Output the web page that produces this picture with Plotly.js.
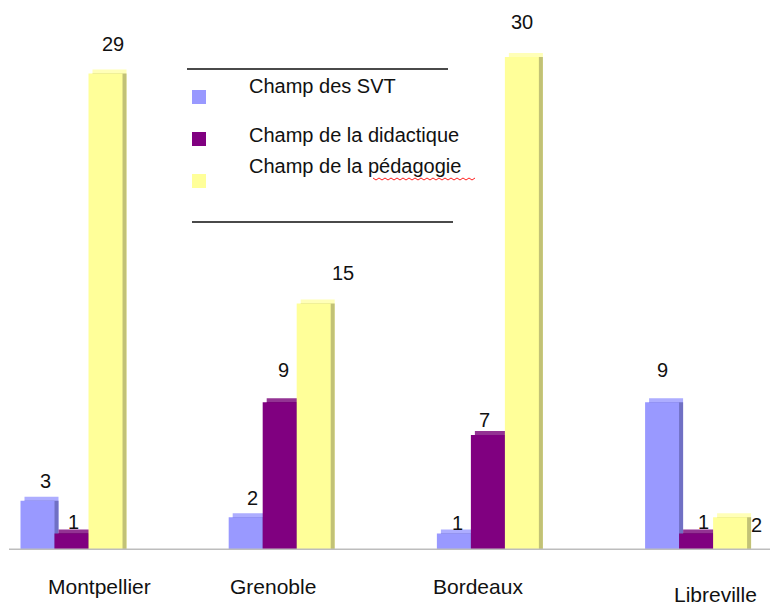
<!DOCTYPE html>
<html>
<head>
<meta charset="utf-8">
<script src="https://cdn.plot.ly/plotly-3.0.1.min.js"></script>
<style>html,body{margin:0;padding:0;background:#fff;}#chart{width:770px;height:607px;}</style>
</head>
<body>
<div id="chart"></div>
<script>
// ---- data ----
var categories = ["Montpellier", "Grenoble", "Bordeaux", "Libreville"];
var seriesNames = ["Champ des SVT", "Champ de la didactique", "Champ de la pédagogie"];
var svtValues = [3, 2, 1, 9];
var didactiqueValues = [1, 9, 7, 1];
var pedagogieValues = [29, 15, 30, 2];

// ---- style ----
var faceColors = ["#9999FF", "#800080", "#FFFF99"];
var sideColors = ["#7070C4", "#560056", "#C2C276"];
var topColors  = ["#ADADFF", "#933393", "#FFFFB8"];
// label nudges (pixels) per series
var labelDx = [[8, 7, 4, 0], [1.5, 4, -3, 7], [7, 29, 0, 26]];
var labelDy = [[20, 19, 11, 32], [12, 32, 15, 12], [30, 31, 35, -8]];
var catLabelDx = [28, -7, -10, 19];
var catLabelDy = [-36, -36, -36, -44];

var W = 770, H = 607;
var baseY = 550;             // pixel of value 0
var xMin = -0.3434, xMax = 3.355;
var pxX = W / (xMax - xMin);
var pxY = 16.43;
var yMax = baseY / pxY;
var w = 34 / pxX;
var dX = 4 / pxX, dY = 4 / pxY;
var font = "Arial, 'Liberation Sans', sans-serif";

var allValues = [svtValues, didactiqueValues, pedagogieValues];
var traces = [];
allValues.forEach(function (vals, s) {
  var off = (s - 1.5) * w;
  traces.push({type: "bar", x: categories, y: vals.map(function (v) { return v + dY; }),
    offset: off + dX, width: w, marker: {color: topColors[s], line: {width: 0}},
    hoverinfo: "skip", showlegend: false});
  traces.push({type: "bar", x: categories, y: vals,
    offset: off + dX, width: w, marker: {color: sideColors[s], line: {width: 0}},
    hoverinfo: "skip", showlegend: false});
  traces.push({type: "bar", x: categories, y: vals, name: seriesNames[s],
    offset: off, width: w, marker: {color: faceColors[s], line: {width: 0}},
    showlegend: false});
});

var annotations = [];
allValues.forEach(function (vals, s) {
  vals.forEach(function (v, i) {
    annotations.push({x: i + (s - 1) * w, y: v, xref: "x", yref: "y", text: String(v),
      showarrow: false, xanchor: "center", yanchor: "middle",
      xshift: labelDx[s][i], yshift: labelDy[s][i],
      font: {family: font, size: 20, color: "#111"}});
  });
});
categories.forEach(function (c, i) {
  annotations.push({x: i, y: 0, xref: "x", yref: "y", text: c, showarrow: false,
    xanchor: "center", yanchor: "middle", xshift: catLabelDx[i], yshift: catLabelDy[i],
    borderpad: 0, font: {family: font, size: 21, color: "#111"}});
});

// legend (manual)
var legTextY = [86, 135, 166];
var legBoxY = [90, 132, 174];
var shapes = [];
seriesNames.forEach(function (n, s) {
  annotations.push({xref: "paper", yref: "paper", x: 247 / W, y: 1 - legTextY[s] / H,
    text: n, showarrow: false, xanchor: "left", yanchor: "middle",
    font: {family: font, size: 20, color: "#111"}});
  shapes.push({type: "rect", xref: "paper", yref: "paper",
    x0: 192 / W, x1: 206 / W, y0: 1 - legBoxY[s] / H, y1: 1 - (legBoxY[s] + 14) / H,
    fillcolor: faceColors[s], line: {width: 0}});
});
shapes.push({type: "line", xref: "paper", yref: "paper", x0: 187 / W, x1: 448 / W,
  y0: 1 - 69 / H, y1: 1 - 69 / H, line: {color: "#4a4a4a", width: 2}});
shapes.push({type: "line", xref: "paper", yref: "paper", x0: 192 / W, x1: 453 / W,
  y0: 1 - 222 / H, y1: 1 - 222 / H, line: {color: "#4a4a4a", width: 2}});
// spell-check squiggle under "pédagogie"
var sq = "M" + (373 / W) + "," + (1 - 178 / H);
for (var k = 1; k <= 34; k++) {
  var px = 373 + k * 3, py = 178 + (k % 2 ? 2 : 0);
  sq += " L" + (px / W) + "," + (1 - py / H);
}
shapes.push({type: "path", xref: "paper", yref: "paper", path: sq,
  line: {color: "#ff2020", width: 1}});
// floor line
shapes.push({type: "line", xref: "paper", yref: "y", x0: 9 / W, x1: 1, y0: 0, y1: 0,
  line: {color: "#bdbdbd", width: 3}, layer: "above"});

var layout = {
  width: W, height: H,
  margin: {l: 0, r: 0, t: 0, b: 0, pad: 0},
  paper_bgcolor: "#fff", plot_bgcolor: "#fff",
  barmode: "overlay",
  showlegend: false,
  xaxis: {type: "category", range: [xMin, xMax], showticklabels: false, showgrid: false,
    zeroline: false, showline: false, ticks: "", fixedrange: true},
  yaxis: {range: [0, yMax], domain: [(H - baseY) / H, 1], showticklabels: false,
    showgrid: false, zeroline: false, showline: false, ticks: "", fixedrange: true},
  annotations: annotations,
  shapes: shapes
};

Plotly.newPlot("chart", traces, layout, {displayModeBar: false, staticPlot: true});
</script>
</body>
</html>
